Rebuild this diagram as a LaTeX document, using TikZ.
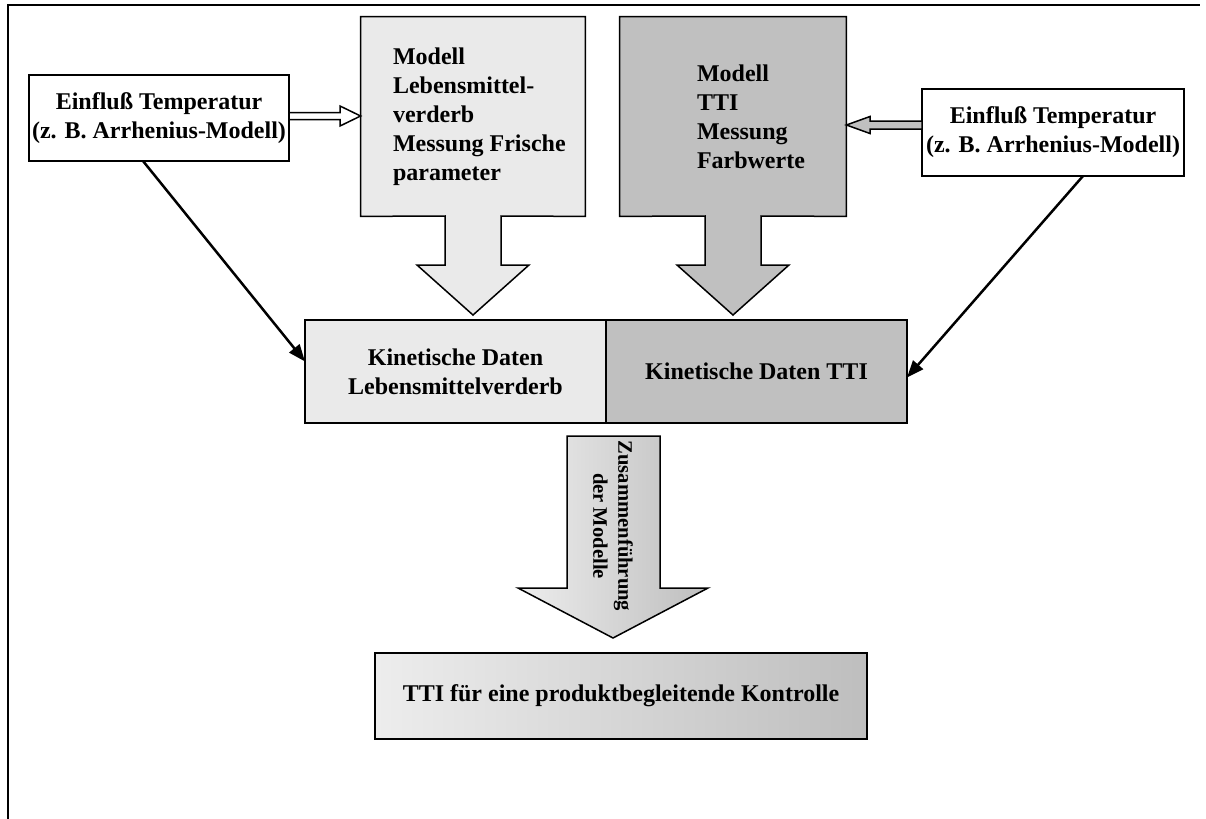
\documentclass[tikz,border=0pt]{standalone}
\usepackage{fontspec}
\setmainfont{Liberation Serif}
\usetikzlibrary{arrows.meta}

\definecolor{spoilgray}{HTML}{EAEAEA}
\definecolor{ttigray}{HTML}{C0C0C0}
\definecolor{shadelight}{HTML}{EDEDED}
\definecolor{shadedark}{HTML}{BEBEBE}

\begin{document}
\begin{tikzpicture}[x=0.5pt,y=-0.5pt,
    font=\fontsize{12}{14.5}\selectfont\bfseries,
    boxline/.style={draw,line width=0.75pt,line join=miter},
    box/.style={boxline,inner sep=0pt,outer sep=0pt,align=center},
    thinarrow/.style={line width=1.25pt,-{Triangle[length=8.5pt,width=6.5pt]}}]
    \useasboundingbox (0,0) rectangle (1206,819);
    % frame of the page
    \draw[line width=1.1pt] (8,819) -- (8,5) -- (1200,5);

    % temperature influence
    \node[box, minimum width=130pt, minimum height=43pt] (tempL) at (159,118)
        {Einfluß Temperatur\\(z. B. Arrhenius-Modell)};
    \node[box, minimum width=131pt, minimum height=43.5pt] (tempR) at (1053,132.5)
        {Einfluß Temperatur\\(z. B. Arrhenius-Modell)};

    % model boxes with their block arrows
    \node[minimum width=112pt, minimum height=99.5pt] (modelL) at (473,116.5) {};
    \draw[boxline, fill=spoilgray] (modelL.north west) -- (modelL.north east)
        -- (modelL.south east) -- (501,216) -- (501,265) -- (529,265) -- (473,315)
        -- (417,265) -- (445,265) -- (445,216) -- (modelL.south west) -- cycle;
    \node[anchor=west, align=left, inner sep=0pt] (modelLtext) at ([xshift=16pt]modelL.west)
        {Modell\\Lebensmittel-\\verderb\\Messung Frische\\parameter};

    \node[minimum width=113pt, minimum height=99.5pt] (modelR) at (733,116.5) {};
    \draw[boxline, fill=ttigray] (modelR.north west) -- (modelR.north east)
        -- (modelR.south east) -- (761,216) -- (761,265) -- (789,265) -- (733,315)
        -- (677,265) -- (705,265) -- (705,216) -- (modelR.south west) -- cycle;
    \node[anchor=west, align=left, inner sep=0pt] (modelRtext) at ([xshift=38.5pt]modelR.west)
        {Modell\\TTI\\Messung\\Farbwerte};

    % broad arrows from temperature to models
    \draw[boxline, fill=white] (tempL.east |- 0,112.5) -- (340,112.5) -- (340,106)
        -- (modelL.west |- 0,116) -- (340,126) -- (340,119.5)
        -- (tempL.east |- 0,119.5) -- cycle;
    \draw[boxline, fill=ttigray] (tempR.west |- 0,121) -- (870,121) -- (870,116.5)
        -- (modelR.east |- 0,125) -- (870,133.5) -- (870,129)
        -- (tempR.west |- 0,129) -- cycle;

    % kinetic data
    \node[box, fill=spoilgray, minimum width=150.5pt, minimum height=51.5pt] (kinL)
        at (455.5,371.5) {Kinetische Daten\\Lebensmittelverderb};
    \node[box, fill=ttigray, minimum width=150.5pt, minimum height=51.5pt, anchor=west]
        (kinR) at (kinL.east) {Kinetische Daten TTI};

    \draw[thinarrow] ([xshift=-8pt]tempL.south) -- ([yshift=5pt]kinL.west);
    \draw[thinarrow] ([xshift=15pt]tempR.south) -- ([yshift=-3pt]kinR.east);

    % merging arrow
    \draw[boxline, left color=shadelight, right color=shadedark] (567,436) -- (660,436)
        -- (660,588) -- (708,588) -- (613,638) -- (518,588) -- (567,588) -- cycle;
    \node[rotate=-90, align=center, inner sep=0pt,
        font=\fontsize{10.3}{12.5}\selectfont\bfseries] (mergetext) at (613,526)
        {Zusammenführung\\der Modelle};

    % result
    \node[box, left color=shadelight, right color=shadedark, minimum width=246pt,
        minimum height=43pt] (final) at (621,696)
        {TTI für eine produktbegleitende Kontrolle};
\end{tikzpicture}
\end{document}
